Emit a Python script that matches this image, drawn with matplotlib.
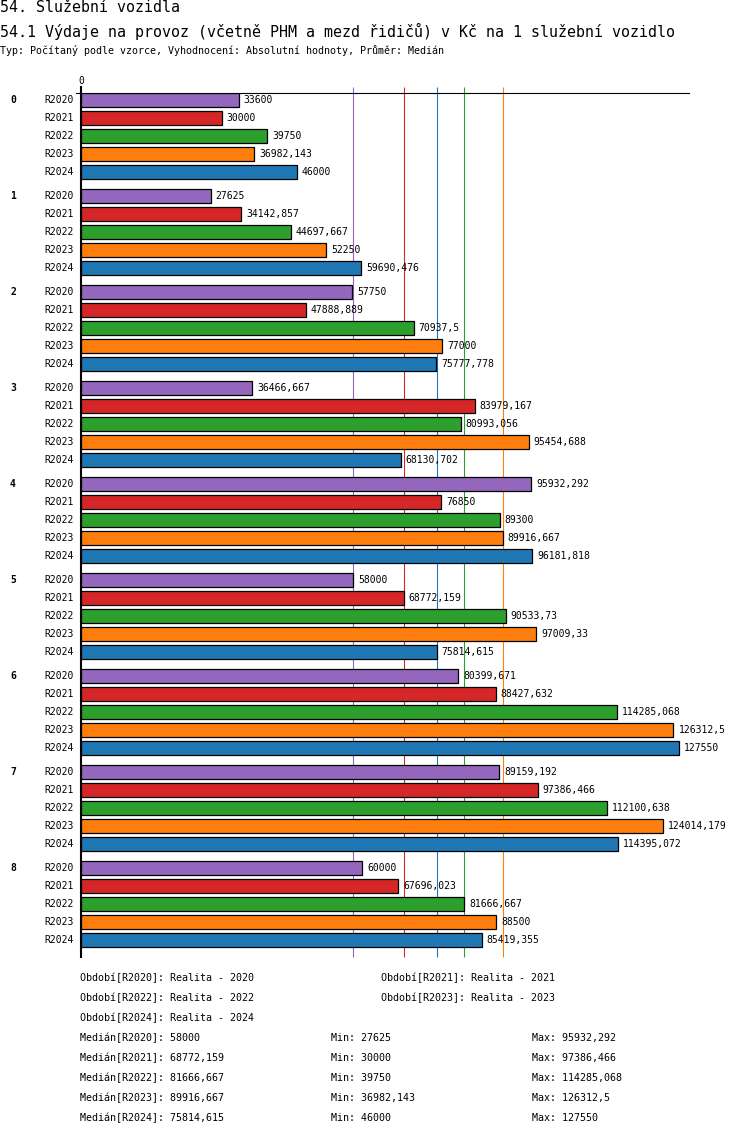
import matplotlib
matplotlib.use("Agg")
import matplotlib.pyplot as plt
from matplotlib.transforms import blended_transform_factory

plt.rcParams['font.family'] = ['DejaVu Sans Mono']

# data
groups = ['0', '1', '2', '3', '4', '5', '6', '7', '8']
periods = ['R2020', 'R2021', 'R2022', 'R2023', 'R2024']
colors = ['#9467bd', '#d62728', '#2ca02c', '#ff7f0e', '#1f77b4']

r2020 = [33600, 27625, 57750, 36466.667, 95932.292, 58000, 80399.671, 89159.192, 60000]
r2021 = [30000, 34142.857, 47888.889, 83979.167, 76850, 68772.159, 88427.632, 97386.466, 67696.023]
r2022 = [39750, 44697.667, 70937.5, 80993.056, 89300, 90533.73, 114285.068, 112100.638, 81666.667]
r2023 = [36982.143, 52250, 77000, 95454.688, 89916.667, 97009.33, 126312.5, 124014.179, 88500]
r2024 = [46000, 59690.476, 75777.778, 68130.702, 96181.818, 75814.615, 127550, 114395.072, 85419.355]
series = [r2020, r2021, r2022, r2023, r2024]

medians = [58000, 68772.159, 81666.667, 89916.667, 75814.615]
mins = [27625, 30000, 39750, 36982.143, 46000]
maxs = [95932.292, 97386.466, 114285.068, 126312.5, 127550]
period_names = ['Realita - 2020', 'Realita - 2021', 'Realita - 2022', 'Realita - 2023', 'Realita - 2024']


def fmt(v):
    s = f"{v:.3f}".rstrip('0').rstrip('.')
    return s.replace('.', ',')


W, H = 750, 1136
fig = plt.figure(figsize=(W / 100, H / 100), dpi=100)

# axes placed in pixel space
ax_left, ax_right, ax_top, ax_bot = 81, 689, 92.5, 956.5
ax = fig.add_axes([ax_left / W, 1 - ax_bot / H, (ax_right - ax_left) / W, (ax_bot - ax_top) / H])
px_per_unit = 0.00469
ax.set_xlim(0, (ax_right - ax_left) / px_per_unit)
ax.set_ylim(ax_bot - ax_top, 0)
ax.axis('off')

group_pitch, bar_pitch = 96, 18

# median lines behind bars
for med, c in zip(medians, colors):
    ax.vlines(med, -6, ax_bot - ax_top, color=c, lw=0.8, zorder=1, clip_on=False)

lab_tr = blended_transform_factory(fig.transFigure, ax.transData)
for i, (vals, c, p) in enumerate(zip(series, colors, periods)):
    ys = [g * group_pitch + i * bar_pitch + 7.5 for g in range(len(groups))]
    ax.barh(ys, vals, height=14, color=c, edgecolor='black', linewidth=0.9, zorder=2)
    for y, v in zip(ys, vals):
        ax.annotate(fmt(v), (v, y), xytext=(5, 0), textcoords='offset pixels',
                    ha='left', va='center', fontsize=7, zorder=3)
        ax.text(74 / W, y, p, transform=lab_tr, ha='right', va='center', fontsize=7)

for g, name in enumerate(groups):
    ax.text(13 / W, g * group_pitch + 7.5, name, transform=lab_tr, ha='center', va='center',
            fontsize=7, fontweight='bold')

# axis lines
ax.plot([-5.5 / px_per_unit, (ax_right - ax_left) / px_per_unit], [0, 0], color='black', lw=0.8,
        clip_on=False, zorder=4)
ax.plot([0, 0], [-6, ax_bot - ax_top], color='black', lw=1.5, clip_on=False, zorder=4)
ax.text(0, -11, '0', ha='center', va='center', fontsize=7)


def ftext(x, y, s, size=7.2, **kw):
    fig.text(x / W, 1 - y / H, s, fontsize=size, va='center', **kw)


ftext(0, 8, '54. Služební vozidla', size=10.8)
ftext(0, 31, '54.1 Výdaje na provoz (včetně PHM a mezd řidičů) v Kč na 1 služební vozidlo', size=10.8)
ftext(0, 51, 'Typ: Počítaný podle vzorce, Vyhodnocení: Absolutní hodnoty, Průměr: Medián', size=7.2)

# footer
for i, (p, n) in enumerate(zip(periods, period_names)):
    x = 80 if i % 2 == 0 else 381
    y = 978 + (i // 2) * 20
    ftext(x, y, f'Období[{p}]: {n}')

for i, p in enumerate(periods):
    y = 1038 + i * 20
    ftext(80, y, f'Medián[{p}]: {fmt(medians[i])}')
    ftext(331, y, f'Min: {fmt(mins[i])}')
    ftext(532, y, f'Max: {fmt(maxs[i])}')

fig.savefig('out.png', dpi=100, facecolor='white')
